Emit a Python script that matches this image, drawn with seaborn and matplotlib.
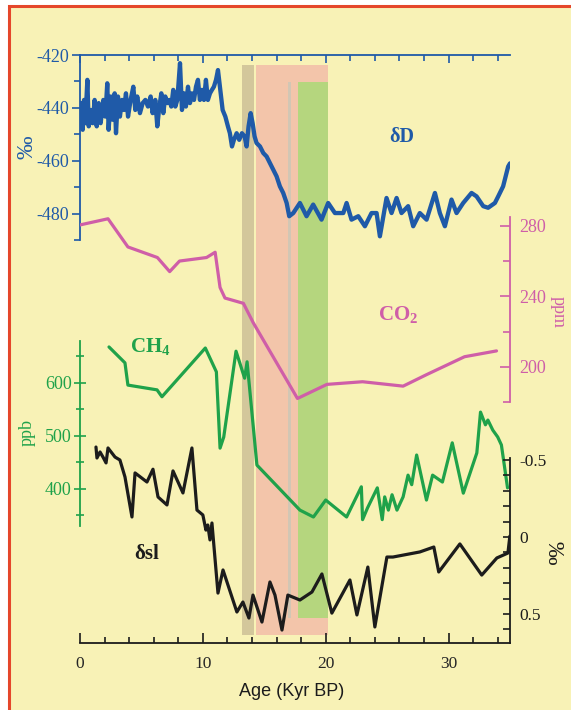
import pandas as pd
import seaborn as sns
import matplotlib.pyplot as plt
from matplotlib.ticker import MultipleLocator, FixedLocator
from matplotlib.patches import Rectangle

# Values (age in kyr BP)
dD_age = [0.08, 0.22, 0.33, 0.43, 0.60, 0.71, 0.87, 1.03, 1.19, 1.36,
          1.52, 1.68, 1.90, 2.06, 2.22, 2.33, 2.50, 2.66, 2.82, 2.93,
          3.09, 3.25, 3.42, 3.58, 3.74, 3.91, 4.12, 4.34, 4.50, 4.66,
          4.88, 5.10, 5.32, 5.53, 5.75, 5.91, 6.13, 6.29, 6.46, 6.62,
          6.78, 6.94, 7.11, 7.27, 7.43, 7.59, 7.76, 7.92, 8.14, 8.30,
          8.46, 8.62, 8.79, 8.95, 9.11, 9.28, 9.44, 9.60, 9.76, 9.93,
          10.09, 10.25, 10.41, 10.58, 10.74, 10.90, 11.07, 11.23, 11.39, 11.61,
          11.83, 12.04, 12.20, 12.37, 12.53, 12.75, 12.96, 13.18, 13.40, 13.56,
          13.72, 13.89, 14.05, 14.21, 14.37, 14.65, 14.92, 15.19, 15.46, 15.73,
          16.00, 16.27, 16.54, 16.82, 17.03,
          17.36, 17.90, 18.44, 18.98, 19.66, 20.20, 20.75, 21.43, 21.70, 22.10,
          22.65, 23.19, 23.73, 24.14, 24.41, 24.95, 25.36, 25.77, 26.17, 26.71,
          27.12, 27.66, 28.21, 28.89, 29.29, 29.70, 30.24, 30.65, 31.19, 31.87,
          32.28, 32.82, 33.22, 33.77, 34.04, 34.44, 34.85, 35.0]
dD = [-438.2, -448.3, -437.0, -445.8, -429.4, -447.0, -440.8, -445.8, -437.0, -447.0,
      -438.2, -445.8, -437.0, -443.3, -430.7, -448.3, -435.7, -444.5, -434.5, -449.6,
      -435.7, -443.3, -437.0, -440.8, -434.5, -443.3, -437.0, -432.0, -440.8, -435.7,
      -442.0, -438.2, -437.0, -439.5, -435.7, -442.0, -437.0, -447.0, -439.5, -434.5,
      -442.0, -435.7, -438.2, -437.0, -439.5, -433.2, -439.5, -437.0, -423.1, -440.8,
      -434.5, -439.5, -432.0, -438.2, -434.5, -437.0, -432.0, -429.4, -437.0, -433.2,
      -437.0, -429.4, -437.0, -434.5, -433.2, -432.0, -429.4, -425.7, -432.0, -440.8,
      -443.3, -447.0, -449.6, -454.6, -452.1, -449.6, -452.1, -449.6, -450.8, -454.6,
      -447.0, -442.0, -445.8, -450.8, -453.3, -454.6, -457.1, -458.4, -460.9, -463.4,
      -465.9, -469.7, -472.2, -476.0, -481.0,
      -479.8, -476.0, -481.0, -476.6, -482.3, -476.0, -479.8, -479.8, -476.0, -482.3,
      -481.0, -484.8, -479.8, -479.8, -488.6, -474.1, -479.8, -474.1, -479.8, -477.2,
      -484.8, -479.8, -482.3, -472.2, -479.8, -484.8, -474.7, -479.8, -476.0, -472.2,
      -473.5, -477.2, -477.8, -476.0, -473.5, -469.7, -462.2, -461.0]

co2_age = [0.0, 2.28, 3.9, 6.3, 7.3, 8.1, 10.3, 11.0, 11.4, 11.8,
           13.3, 14.1, 17.7, 20.1, 23.0, 26.3, 28.2, 31.3, 33.9]
co2 = [280.5, 284, 268, 262, 254, 260, 262, 265, 245, 239,
       236, 225, 182, 190, 191.5, 189, 195.5, 205.7, 209]

ch4_age = [2.36, 3.66, 3.9, 6.27, 6.67, 10.2, 11.1, 11.4, 11.7, 12.7,
           13.4, 13.6, 14.4, 17.9, 19.0, 20.0, 21.7, 22.9, 23.0, 23.4,
           24.2, 24.6, 24.8, 25.1, 25.4, 25.8, 26.3, 26.7, 27.0, 27.4,
           28.2, 28.7, 29.5, 30.3, 31.2, 32.3, 32.6, 33.0, 33.2, 33.6,
           34.0, 34.3, 34.8]
ch4 = [668, 638, 596, 587, 574, 666, 621, 477, 498, 660,
       609, 640, 445, 360, 347, 379, 347, 404, 342, 364,
       402, 342, 385, 360, 389, 360, 385, 426, 408, 464,
       379, 426, 413, 487, 392, 468, 545, 521, 530, 511,
       498, 483, 402]

sl_age = [1.30, 1.38, 1.63, 1.87, 2.12, 2.28, 2.85, 3.25, 3.66, 4.23,
          4.48, 5.45, 5.94, 6.35, 7.08, 7.57, 8.38, 9.11, 9.52, 10.0,
          10.25, 10.4, 10.58, 10.74, 11.23, 11.64, 12.77, 13.26, 13.75, 14.08,
          14.81, 15.46, 15.87, 16.44, 16.92, 17.9, 18.88, 19.69, 20.5, 21.97,
          22.54, 23.43, 24.0, 24.98, 25.47, 27.66, 28.8, 29.2, 30.92, 32.7,
          33.93, 34.83, 34.99]
sl = [-0.584, -0.513, -0.552, -0.519, -0.481, -0.578, -0.519, -0.5, -0.39, -0.13,
      -0.416, -0.357, -0.44, -0.26, -0.208, -0.429, -0.286, -0.578, -0.175, -0.143,
      -0.045, -0.078, 0.019, -0.091, 0.364, 0.214, 0.487, 0.422, 0.526, 0.377,
      0.552, 0.292, 0.377, 0.604, 0.377, 0.409, 0.357, 0.24, 0.494, 0.279,
      0.506, 0.195, 0.584, 0.13, 0.13, 0.097, 0.065, 0.227, 0.045, 0.247,
      0.136, 0.104, -0.006]

# shaded time windows (kyr BP)
tan_band = (13.2, 14.17)
pink_band = (14.3, 20.18)
grey_line = (16.92, 17.2)
green_band = (17.74, 20.18)

YELLOW = "#f8f2b6"
RED = "#e5472b"
BLUE = "#1f5aa8"
MAGENTA = "#cf5ea8"
GREEN = "#1fa24a"
BLACK = "#1c1c1c"

sns.set_style("ticks")
plt.rcParams["font.family"] = ["Liberation Serif", "DejaVu Serif"]
plt.rcParams["axes.unicode_minus"] = False
plt.rcParams["mathtext.fontset"] = "custom"
plt.rcParams["mathtext.rm"] = "Liberation Serif"
plt.rcParams["mathtext.bf"] = "Liberation Serif:bold"

W, H = 571, 710
fig = plt.figure(figsize=(W / 100, H / 100), dpi=100)
fig.patch.set_facecolor("white")
fig.add_artist(Rectangle((9 / W, -0.05), 1.0, 1 - 6.3 / H + 0.05,
                         transform=fig.transFigure, facecolor=YELLOW,
                         edgecolor=RED, linewidth=2.2, zorder=-10))

L, R = 80, 510


def make_ax(top, bottom):
    ax = fig.add_axes([L / W, 1 - bottom / H, (R - L) / W, (bottom - top) / H])
    ax.set_facecolor("none")
    for s in ax.spines.values():
        s.set_visible(False)
    ax.set_xlim(0, 35)
    ax.tick_params(left=False, right=False, top=False, bottom=False,
                   labelleft=False, labelright=False, labeltop=False, labelbottom=False)
    return ax


# shaded bands
ax_b = make_ax(55, 643)
ax_b.set_ylim(0, 1)
ax_b.axvspan(*tan_band, ymin=0.0136, ymax=0.983, color="#d3c79b", lw=0)
ax_b.axvspan(*pink_band, ymin=0.0136, ymax=0.983, color="#f3c5aa", lw=0)
ax_b.axvspan(*green_band, ymin=0.0425, ymax=0.954, color="#b5d67e", lw=0)
ax_b.axvspan(*grey_line, ymin=0.0425, ymax=0.954, color="#d2c6b4", lw=0)

# deltaD panel
ax_d = make_ax(55, 240)
sns.lineplot(x=dD_age, y=dD, ax=ax_d, color=BLUE, linewidth=3.1,
             estimator=None, sort=False)
ax_d.set_xlim(0, 35)
ax_d.set_ylim(-490, -420)
for side in ("left", "top"):
    ax_d.spines[side].set_visible(True)
    ax_d.spines[side].set_color(BLUE)
    ax_d.spines[side].set_linewidth(1.3)
ax_d.xaxis.tick_top()
ax_d.xaxis.set_major_locator(MultipleLocator(10))
ax_d.xaxis.set_minor_locator(MultipleLocator(2))
ax_d.tick_params(axis="x", which="both", top=True, direction="in", color=BLUE,
                 labeltop=False, width=1.2)
ax_d.tick_params(axis="x", which="major", length=6)
ax_d.tick_params(axis="x", which="minor", length=4)
ax_d.yaxis.set_major_locator(FixedLocator([-480, -460, -440, -420]))
ax_d.yaxis.set_minor_locator(FixedLocator([-490, -470, -450, -430]))
ax_d.tick_params(axis="y", which="both", left=True, labelleft=True, direction="out",
                 color=BLUE, labelcolor=BLUE, labelsize=13, width=1.2, pad=2)
ax_d.tick_params(axis="y", which="major", length=6)
ax_d.tick_params(axis="y", which="minor", length=4)
ax_d.set_xlabel("")
ax_d.set_ylabel("")
ax_d.text(26.2, -451, "δD", color=BLUE, fontsize=14.5, fontweight="bold",
          ha="center", va="center")

# CO2 panel
ax_c = make_ax(217, 402)
sns.lineplot(x=co2_age, y=co2, ax=ax_c, color=MAGENTA, linewidth=2.3,
             estimator=None, sort=False)
ax_c.set_xlim(0, 35)
ax_c.set_ylim(180, 285)
ax_c.spines["right"].set_visible(True)
ax_c.spines["right"].set_color(MAGENTA)
ax_c.spines["right"].set_linewidth(1.3)
ax_c.yaxis.tick_right()
ax_c.yaxis.set_major_locator(FixedLocator([200, 240, 280]))
ax_c.yaxis.set_minor_locator(FixedLocator([180, 220, 260]))
ax_c.tick_params(axis="y", which="both", right=True, labelright=True, left=False,
                 labelleft=False, direction="in", color=MAGENTA,
                 labelcolor=MAGENTA, labelsize=13, width=1.2, pad=7)
ax_c.tick_params(axis="y", which="major", length=7)
ax_c.tick_params(axis="y", which="minor", length=5)
ax_c.tick_params(axis="x", which="both", bottom=False, labelbottom=False)
ax_c.set_xlabel("")
ax_c.set_ylabel("")
ax_c.text(25.9, 229.5, r"$\mathbf{CO_2}$", color=MAGENTA, fontsize=15,
          ha="center", va="center")

# CH4 panel
ax_m = make_ax(340.6, 526)
sns.lineplot(x=ch4_age, y=ch4, ax=ax_m, color=GREEN, linewidth=2.3,
             estimator=None, sort=False)
ax_m.set_xlim(0, 35)
ax_m.set_ylim(330, 680)
ax_m.spines["left"].set_visible(True)
ax_m.spines["left"].set_color(GREEN)
ax_m.spines["left"].set_linewidth(1.3)
ax_m.yaxis.set_major_locator(FixedLocator([400, 500, 600]))
ax_m.yaxis.set_minor_locator(FixedLocator([350, 450, 550, 650]))
ax_m.tick_params(axis="y", which="both", left=True, labelleft=True, direction="inout",
                 color=GREEN, labelcolor=GREEN, labelsize=13, width=1.2, pad=2)
ax_m.tick_params(axis="y", which="major", length=8)
ax_m.tick_params(axis="y", which="minor", length=6)
ax_m.set_xlabel("")
ax_m.set_ylabel("")
ax_m.text(5.7, 668, r"$\mathbf{CH_4}$", color=GREEN, fontsize=15,
          ha="center", va="center")

# delta sea level panel (carries the age axis)
ax_s = make_ax(441.5, 643.3)
sns.lineplot(x=sl_age, y=sl, ax=ax_s, color=BLACK, linewidth=2.3,
             estimator=None, sort=False)
ax_s.set_xlim(0, 35)
ax_s.set_ylim(0.69, -0.62)
for side in ("right", "bottom"):
    ax_s.spines[side].set_visible(True)
    ax_s.spines[side].set_color(BLACK)
    ax_s.spines[side].set_linewidth(1.3)
ax_s.spines["right"].set_bounds(-0.51, 0.69)
ax_s.yaxis.tick_right()
ax_s.yaxis.set_major_locator(FixedLocator([-0.5, 0, 0.5]))
ax_s.set_yticklabels(["-0.5", "0", "0.5"])
ax_s.yaxis.set_minor_locator(FixedLocator([-0.4, -0.3, -0.2, -0.1, 0.1, 0.2, 0.3, 0.4, 0.6]))
ax_s.tick_params(axis="y", which="both", right=True, labelright=True, left=False,
                 labelleft=False, direction="in", color=BLACK, labelcolor=BLACK,
                 labelsize=12.5, width=1.2, length=5, pad=7)
ax_s.xaxis.set_major_locator(MultipleLocator(10))
ax_s.xaxis.set_minor_locator(MultipleLocator(2))
ax_s.tick_params(axis="x", which="both", bottom=True, labelbottom=True,
                 direction="in", color=BLACK, labelsize=12.5, width=1.2, pad=9)
ax_s.tick_params(axis="x", which="major", length=7)
ax_s.tick_params(axis="x", which="minor", length=4)
ax_s.set_ylabel("")
ax_s.set_xlabel("")
ax_s.text(5.4, 0.11, "δsl", color=BLACK, fontsize=15, fontweight="bold",
          ha="center", va="center")

# axis titles and unit labels
fig.text(292 / W, 1 - 691 / H, "Age (Kyr BP)", family="Liberation Sans",
         color=BLACK, fontsize=13, ha="center", va="center")
fig.text(27 / W, 1 - 147 / H, "‰", color=BLUE, fontsize=17, rotation=90,
         ha="center", va="center")
fig.text(27 / W, 1 - 433 / H, "ppb", color=GREEN, fontsize=13, rotation=90,
         ha="center", va="center")
fig.text(558 / W, 1 - 312 / H, "ppm", color=MAGENTA, fontsize=13, rotation=270,
         ha="center", va="center")
fig.text(553 / W, 1 - 553 / H, "‰", color=BLACK, fontsize=17, rotation=270,
         ha="center", va="center")

fig.savefig("out.png", dpi=100)
